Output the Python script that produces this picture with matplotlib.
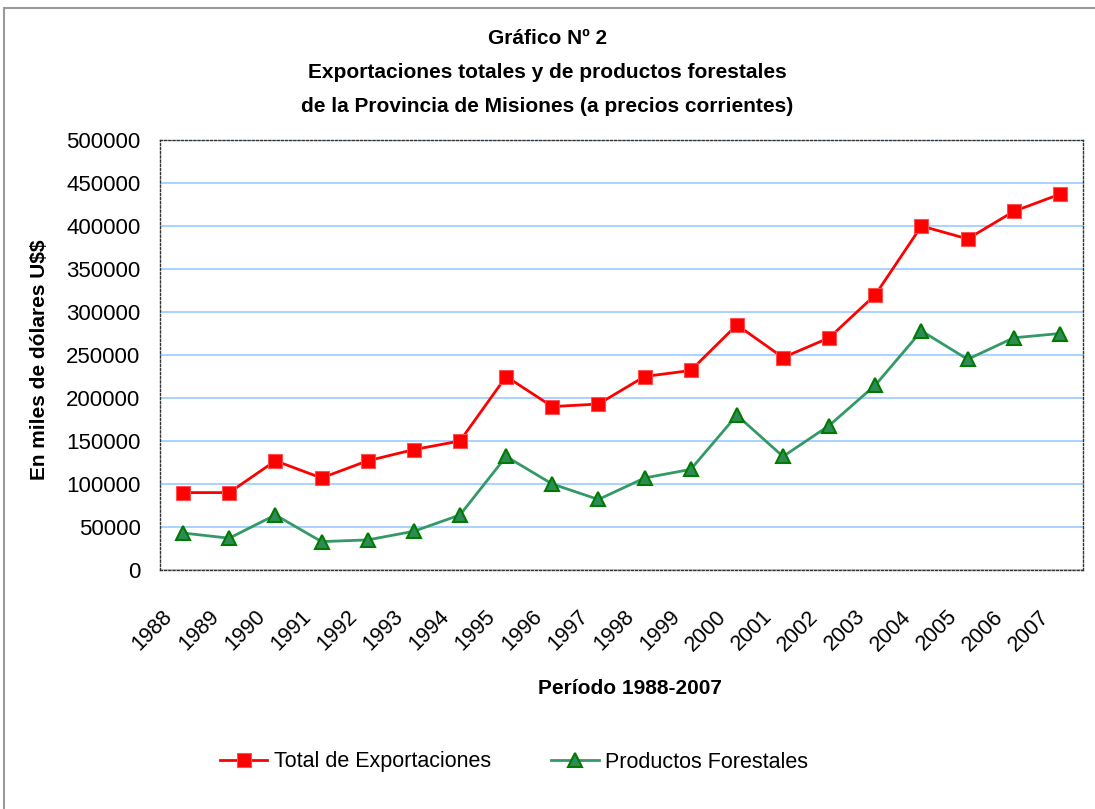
import matplotlib
matplotlib.use("Agg")
import matplotlib.pyplot as plt
import matplotlib.transforms as mtrans
from matplotlib.patches import Rectangle

years = ["1988", "1989", "1990", "1991", "1992", "1993", "1994", "1995", "1996", "1997",
         "1998", "1999", "2000", "2001", "2002", "2003", "2004", "2005", "2006", "2007"]
total = [90000, 90000, 127000, 107000, 127000, 140000, 150000, 225000, 190000, 193000,
         225000, 232000, 285000, 247000, 270000, 320000, 400000, 385000, 417000, 437000]
forestales = [43000, 37000, 64000, 33000, 35000, 45000, 64000, 132000, 100000, 82000,
              107000, 117000, 180000, 132000, 168000, 215000, 278000, 245000, 270000, 275000]
yticks = [0, 50000, 100000, 150000, 200000, 250000, 300000, 350000, 400000, 450000, 500000]

reg = ['Liberation Sans', 'DejaVu Sans']

fig = plt.figure(figsize=(10.95, 8.09), dpi=100)
fig.patches.append(Rectangle((4/1095, -0.01), 1.1, 1 - 8/809 + 0.01, transform=fig.transFigure,
                             fill=False, edgecolor='#999999', linewidth=1.5))
ax = fig.add_axes([160/1095, 1 - 570/809, (1083-160)/1095, (570-140)/809])

x = list(range(len(years)))
ax.plot(x, total, color='#FF0000', linewidth=2, marker='s', markersize=10,
        markerfacecolor='#FF0000', markeredgecolor='#FF5050', markeredgewidth=0.8,
        label='Total de Exportaciones', zorder=4)
ax.plot(x, forestales, color='#339966', linewidth=2, marker='^', markersize=10,
        markerfacecolor='#2E8B57', markeredgecolor='#007A00', markeredgewidth=1.5,
        label='Productos Forestales', zorder=3)

ax.set_xlim(-0.5, len(years) - 0.5)
ax.set_ylim(0, 500000)
ax.set_yticks(yticks)
ax.set_yticklabels([str(v) for v in yticks], fontfamily=reg, fontsize=16)
ax.set_xticks(x)
ax.set_xticklabels(years, rotation=45, ha='right', va='top', rotation_mode='anchor',
                   fontfamily=reg, fontsize=15.5)
ax.tick_params(axis='both', length=0)
ax.tick_params(axis='y', pad=14)
ax.tick_params(axis='x', pad=26)
shift = mtrans.ScaledTranslation(-21/100, 0, fig.dpi_scale_trans)
for lab in ax.get_xticklabels():
    lab.set_transform(lab.get_transform() + shift)
ax.grid(axis='y', color='#99CCFF', linewidth=1.2)
ax.set_axisbelow(True)
for s in ax.spines.values():
    s.set_linestyle((0, (1.5, 1.5)))
    s.set_color('#333333')
    s.set_linewidth(1)

fig.text(0.5, 1 - 38/809, 'Gráfico Nº 2', ha='center', va='center', fontsize=15,
         fontweight='bold', fontfamily=reg)
fig.text(0.5, 1 - 73/809, 'Exportaciones totales y de productos forestales', ha='center',
         va='center', fontsize=15, fontweight='bold', fontfamily=reg)
fig.text(0.5, 1 - 106/809, 'de la Provincia de Misiones (a precios corrientes)', ha='center',
         va='center', fontsize=15, fontweight='bold', fontfamily=reg)
fig.text(40/1095, 1 - 360/809, 'En miles de dólares U\\$\\$', rotation=90, ha='center',
         va='center', fontsize=15, fontweight='bold', fontfamily=reg)
fig.text(630/1095, 1 - 689/809, 'Período 1988-2007', ha='center', va='center', fontsize=15,
         fontweight='bold', fontfamily=reg)

leg = fig.legend(loc='center', bbox_to_anchor=(514/1095, 1 - 762/809), ncol=2, frameon=False,
                 prop={'family': reg, 'size': 15.5}, handlelength=2.2, columnspacing=2.8,
                 handletextpad=0.3)

fig.savefig('out.png', dpi=100)
